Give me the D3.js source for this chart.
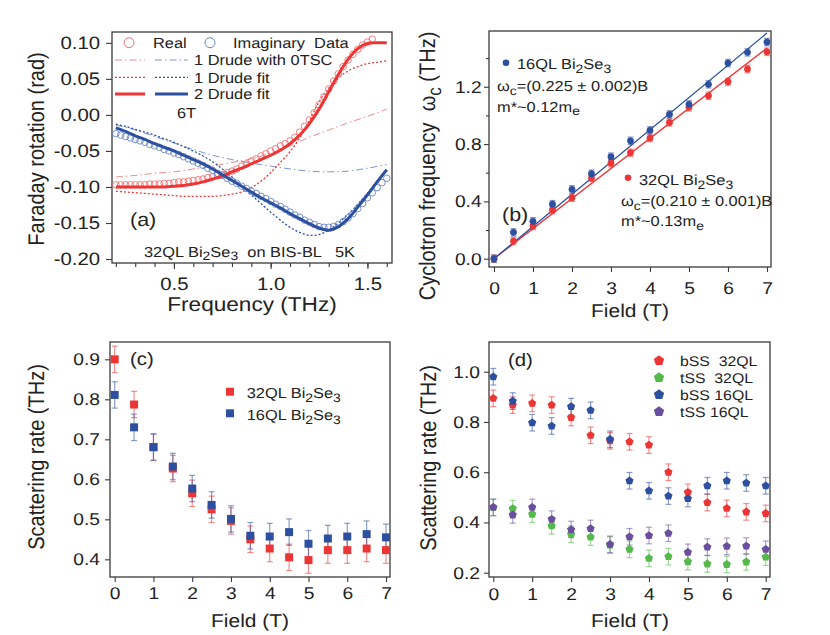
<!DOCTYPE html>
<html>
<head>
<meta charset="utf-8">
<script src="https://d3js.org/d3.v7.min.js"></script>
<style>
body { margin: 0; background: #fff; }
svg text { font-family: "Liberation Sans", Arial, Helvetica, sans-serif; fill: #222; white-space: pre; text-rendering: geometricPrecision; }
</style>
</head>
<body>
<svg id="chart" width="830" height="635"></svg>
<script>
// ---- (a) Faraday rotation at 6T, 32QL Bi2Se3 ----
var freqData = [0.2,0.225,0.25,0.275,0.3,0.325,0.35,0.375,0.4,0.425,0.45,0.475,0.5,0.525,0.55,0.575,0.6,0.625,0.65,0.675,
  0.7,0.725,0.75,0.775,0.8,0.825,0.85,0.875,0.9,0.925,0.95,0.975,1.0,1.025,1.05,1.075,1.1,1.125,1.15,1.175,
  1.2,1.225,1.25,1.275,1.3,1.325,1.35,1.375,1.4,1.425,1.45,1.475,1.5,1.525,1.55,1.575,1.6];
var realData = [-0.097,-0.097,-0.097,-0.097,-0.097,-0.097,-0.097,-0.096,-0.096,-0.096,-0.095,-0.095,-0.094,-0.093,-0.093,-0.092,
  -0.091,-0.090,-0.089,-0.087,-0.086,-0.084,-0.083,-0.080,-0.078,-0.075,-0.071,-0.068,-0.064,-0.061,-0.057,-0.054,
  -0.050,-0.047,-0.043,-0.040,-0.036,-0.031,-0.024,-0.016,-0.007,0.003,0.014,0.025,0.036,0.047,0.057,0.067,
  0.076,0.084,0.091,0.097,0.101,0.105];
var imagData = [-0.026,-0.028,-0.030,-0.032,-0.034,-0.036,-0.038,-0.041,-0.043,-0.045,-0.048,-0.050,-0.053,-0.055,-0.058,-0.061,
  -0.064,-0.067,-0.070,-0.074,-0.077,-0.081,-0.084,-0.088,-0.092,-0.095,-0.099,-0.102,-0.106,-0.109,-0.113,-0.116,
  -0.120,-0.124,-0.127,-0.131,-0.135,-0.139,-0.142,-0.146,-0.149,-0.152,-0.155,-0.156,-0.156,-0.155,-0.152,-0.148,
  -0.143,-0.137,-0.130,-0.123,-0.115,-0.108,-0.101,-0.094,-0.088];

var freqFit = [0.2,0.25,0.3,0.35,0.4,0.45,0.5,0.55,0.6,0.65,0.7,0.75,0.8,0.85,0.9,0.95,1.0,1.05,1.1,1.15,1.2,1.25,1.3,1.35,1.4,1.45,1.5,1.55,1.6];
var real2Drude = [-0.100,-0.100,-0.100,-0.100,-0.100,-0.100,-0.099,-0.098,-0.096,-0.093,-0.089,-0.085,-0.079,-0.074,-0.068,
  -0.062,-0.056,-0.049,-0.040,-0.028,-0.012,0.008,0.032,0.056,0.077,0.092,0.099,0.100,0.100];
var real1Drude = [-0.106,-0.107,-0.108,-0.109,-0.110,-0.111,-0.112,-0.113,-0.113,-0.113,-0.113,-0.112,-0.110,-0.107,-0.101,
  -0.092,-0.080,-0.066,-0.051,-0.032,-0.008,0.018,0.037,0.051,0.061,0.067,0.071,0.073,0.075];
var imag2Drude = [-0.018,-0.023,-0.029,-0.034,-0.040,-0.045,-0.050,-0.056,-0.062,-0.068,-0.075,-0.083,-0.091,-0.099,-0.107,
  -0.115,-0.122,-0.129,-0.137,-0.144,-0.151,-0.157,-0.160,-0.155,-0.144,-0.128,-0.111,-0.093,-0.076];
var imag1Drude = [-0.013,-0.016,-0.020,-0.024,-0.028,-0.033,-0.038,-0.044,-0.050,-0.057,-0.065,-0.075,-0.086,-0.099,-0.111,
  -0.123,-0.135,-0.146,-0.156,-0.163,-0.167,-0.166,-0.160,-0.150,-0.138,-0.124,-0.109,-0.093,-0.078];

var freqTSC = [0.2,0.3,0.4,0.5,0.6,0.7,0.8,0.9,1.0,1.1,1.2,1.3,1.4,1.5,1.6];
var realTSC = [-0.086,-0.084,-0.081,-0.079,-0.075,-0.071,-0.066,-0.061,-0.053,-0.043,-0.031,-0.021,-0.011,-0.002,0.008];
var imagTSC = [-0.014,-0.021,-0.030,-0.039,-0.048,-0.056,-0.062,-0.067,-0.071,-0.075,-0.078,-0.079,-0.078,-0.074,-0.069];

// ---- field dependence, (b) (c) (d) ----
var field = [0,0.5,1,1.5,2,2.5,3,3.5,4,4.5,5,5.5,6,6.5,7];
var wc16 = [0.0,0.184,0.261,0.380,0.484,0.593,0.712,0.823,0.896,1.007,1.077,1.217,1.365,1.440,1.512];
var wc32 = [0.0,0.123,0.228,0.340,0.426,0.563,0.666,0.740,0.842,0.951,1.056,1.137,1.235,1.324,1.444];
var fitField = [0, 7];
var slope16 = 0.225, slope32 = 0.210;

var gamma32 = [0.900,0.787,0.681,0.627,0.565,0.525,0.496,0.450,0.427,0.405,0.398,0.423,0.423,0.427,0.423];
var gamma16 = [0.811,0.730,0.680,0.632,0.577,0.536,0.501,0.459,0.457,0.468,0.439,0.452,0.457,0.463,0.455];

var bss32 = [0.894,0.867,0.874,0.867,0.818,0.747,0.725,0.721,0.708,0.600,0.520,0.479,0.456,0.442,0.436];
var tss32 = [0.460,0.455,0.433,0.387,0.353,0.342,0.310,0.293,0.257,0.264,0.244,0.235,0.233,0.243,0.262];
var bss16 = [0.980,0.883,0.797,0.784,0.861,0.846,0.731,0.566,0.526,0.505,0.495,0.546,0.566,0.557,0.546];
var tss16 = [0.460,0.430,0.460,0.413,0.372,0.376,0.313,0.343,0.348,0.357,0.281,0.302,0.305,0.306,0.293];

var errB = 0.026, errC = 0.033, errD = 0.033;

// tick labels
var aTicksX = [0.5,1.0,1.5], aTicksY = [-0.20,-0.15,-0.10,-0.05,0.00,0.05,0.10];
var fieldTicks = [0,1,2,3,4,5,6,7];
var bTicksY = [0.0,0.4,0.8,1.2], cTicksY = [0.4,0.5,0.6,0.7,0.8,0.9], dTicksY = [0.2,0.4,0.6,0.8,1.0];

var RED = "#ee3535", BLUE = "#2d4f9f", GREEN = "#55b84a", PURPLE = "#6a4f9f";
var SX = 1.13; // the picture is slightly wide

var svg = d3.select("#chart");

function txt(g, x, y, str, size, anchor, rot) {
  var t = g.append("text")
    .attr("transform", "translate(" + x + "," + y + ") scale(" + SX + ",1)" + (rot ? " rotate(-90)" : ""))
    .attr("font-size", size)
    .attr("text-anchor", anchor || "start");
  var parts = str.split(/(_.)/), low = false, sh = size * 0.25;
  parts.forEach(function(p) {
    if (!p) return;
    if (p.charAt(0) === "_") {
      t.append("tspan").attr("dy", low ? 0 : sh).attr("font-size", size * 0.85).text(p.charAt(1));
      low = true;
    } else {
      t.append("tspan").attr("dy", low ? -sh : 0).text(p);
      low = false;
    }
  });
  return t;
}

function makePanel(o) {
  var g = svg.append("g");
  var x = d3.scaleLinear().domain(o.xd).range([o.l, o.r]);
  var y = d3.scaleLinear().domain(o.yd).range([o.b, o.t]);
  function style(ax) {
    ax.select(".domain").remove();
    ax.attr("font-family", null).attr("font-size", null).attr("color", "#3a3a3a");
    ax.selectAll("line").attr("stroke-width", 1.1);
    ax.selectAll("text").attr("font-size", o.fs).attr("transform", "scale(" + SX + ",1)");
  }
  if (o.xm) g.append("g").attr("transform", "translate(0," + o.b + ")")
    .call(d3.axisBottom(x).tickValues(o.xm).tickSize(o.tk - 2).tickFormat(function() { return ""; })).call(style);
  if (o.ym) g.append("g").attr("transform", "translate(" + o.l + ",0)")
    .call(d3.axisLeft(y).tickValues(o.ym).tickSize(o.tk - 2).tickFormat(function() { return ""; })).call(style);
  g.append("g").attr("transform", "translate(0," + o.b + ")")
    .call(d3.axisBottom(x).tickValues(o.xt).tickSize(o.tk).tickPadding(o.xp).tickFormat(o.xf)).call(style);
  g.append("g").attr("transform", "translate(" + o.l + ",0)")
    .call(d3.axisLeft(y).tickValues(o.yt).tickSize(o.tk).tickPadding(o.yp).tickFormat(o.yf)).call(style);
  g.append("rect").attr("x", o.l).attr("y", o.t).attr("width", o.r - o.l).attr("height", o.b - o.t)
    .attr("fill", "none").attr("stroke", "#3a3a3a").attr("stroke-width", 1.3);
  return {g: g, x: x, y: y};
}

function zip(xs, ys) { return ys.map(function(v, i) { return [xs[i], v]; }); }

function errBars(p, ys, err, color) {
  var d = zip(field, ys);
  var g = p.g.append("g").attr("stroke", color).attr("stroke-opacity", 0.55).attr("stroke-width", 1.2);
  g.selectAll("line.v").data(d).join("line").attr("class", "v")
    .attr("x1", function(d) { return p.x(d[0]); }).attr("x2", function(d) { return p.x(d[0]); })
    .attr("y1", function(d) { return p.y(d[1] - err); }).attr("y2", function(d) { return p.y(d[1] + err); });
  [-1, 1].forEach(function(s) {
    g.selectAll("line.c" + (s + 1)).data(d).join("line").attr("class", "c" + (s + 1))
      .attr("x1", function(d) { return p.x(d[0]) - 3; }).attr("x2", function(d) { return p.x(d[0]) + 3; })
      .attr("y1", function(d) { return p.y(d[1] + s * err); }).attr("y2", function(d) { return p.y(d[1] + s * err); });
  });
}

function marks(p, ys, type, size, color) {
  p.g.append("g").selectAll("path").data(zip(field, ys)).join("path")
    .attr("transform", function(d) { return "translate(" + p.x(d[0]) + "," + p.y(d[1]) + ")"; })
    .attr("d", d3.symbol().type(type).size(size))
    .attr("fill", color);
}

var pentagon = {
  draw: function(ctx, size) {
    var r = Math.sqrt(size / 2.378);
    for (var i = 0; i < 5; i++) {
      var a = -Math.PI / 2 + i * 2 * Math.PI / 5;
      if (i === 0) ctx.moveTo(r * Math.cos(a), r * Math.sin(a));
      else ctx.lineTo(r * Math.cos(a), r * Math.sin(a));
    }
    ctx.closePath();
  }
};

var f1 = function(d) { return d.toFixed(1); };
var f2 = function(d) { return d.toFixed(2); };
var f0 = function(d) { return d.toFixed(0); };

// ================= (a) =================
var pa = makePanel({l: 112, r: 392, t: 32, b: 263, xd: [0.18, 1.627], yd: [-0.2055, 0.115],
  xt: aTicksX, yt: aTicksY, xm: d3.range(0.2, 1.65, 0.1), tk: 6, xp: 8, yp: 4.6, fs: 18, xf: f1, yf: f2});

var lineA = d3.line().x(function(d) { return pa.x(d[0]); }).y(function(d) { return pa.y(d[1]); }).curve(d3.curveCatmullRom);
function curveA(xs, ys, color, w, dash) {
  pa.g.append("path").datum(zip(xs, ys)).attr("d", lineA).attr("fill", "none")
    .attr("stroke", color).attr("stroke-width", w).attr("stroke-dasharray", dash);
}
curveA(freqTSC, realTSC, "#f28a8a", 1, "7,3,1.5,3");
curveA(freqTSC, imagTSC, "#7f95d0", 1, "7,3,1.5,3");
curveA(freqFit, real1Drude, RED, 1.3, "2,2");
curveA(freqFit, imag1Drude, BLUE, 1.3, "2,2");
pa.g.append("g").selectAll("circle").data(zip(freqData, realData)).join("circle")
  .attr("cx", function(d) { return pa.x(d[0]); }).attr("cy", function(d) { return pa.y(d[1]); })
  .attr("r", 3.3).attr("fill", "none").attr("stroke", "#f07070").attr("stroke-width", 0.9);
pa.g.append("g").selectAll("circle").data(zip(freqData, imagData)).join("circle")
  .attr("cx", function(d) { return pa.x(d[0]); }).attr("cy", function(d) { return pa.y(d[1]); })
  .attr("r", 3.3).attr("fill", "none").attr("stroke", "#6a86c8").attr("stroke-width", 0.9);
curveA(freqFit, real2Drude, RED, 3, null);
curveA(freqFit, imag2Drude, BLUE, 3, null);

// legend (a)
var lg = pa.g.append("g");
lg.append("circle").attr("cx", 129).attr("cy", 42.7).attr("r", 5).attr("fill", "none").attr("stroke", "#f07070");
lg.append("circle").attr("cx", 210).attr("cy", 42.7).attr("r", 5).attr("fill", "none").attr("stroke", "#6a86c8");
txt(lg, 153, 47.5, "Real", 14.5);
txt(lg, 233, 47.5, "Imaginary  Data", 14.5);
[[60, "#f28a8a", "#7f95d0", 1, "7,3,1.5,3", "1 Drude with 0TSC"],
 [77.3, RED, BLUE, 1.3, "2,2", "1 Drude fit"],
 [94, RED, BLUE, 3, null, "2 Drude fit"]].forEach(function(r) {
  lg.append("line").attr("x1", 115).attr("x2", 145).attr("y1", r[0]).attr("y2", r[0])
    .attr("stroke", r[1]).attr("stroke-width", r[3]).attr("stroke-dasharray", r[4]);
  lg.append("line").attr("x1", 155).attr("x2", 188).attr("y1", r[0]).attr("y2", r[0])
    .attr("stroke", r[2]).attr("stroke-width", r[3]).attr("stroke-dasharray", r[4]);
  txt(lg, 194, r[0] + 5.3, r[5], 14.5);
});
txt(lg, 177, 118.3, "6T", 14.5);
txt(pa.g, 130, 226, "(a)", 19);
txt(pa.g, 144, 256.7, "32QL Bi_2Se_3  on BIS-BL   5K", 14.5);
txt(svg, 252, 311, "Frequency (THz)", 20, "middle");
txt(svg, 44, 149, "Faraday rotation (rad)", 20, "middle", true);

// ================= (b) =================
var pb = makePanel({l: 489, r: 771, t: 31, b: 267, xd: [-0.128, 7.103], yd: [-0.058, 1.589],
  xt: fieldTicks, yt: bTicksY, ym: [0.2, 0.6, 1.0, 1.4], tk: 5, xp: 10, yp: 1.5, fs: 17, xf: f0, yf: f1});
var lineB = d3.line().x(function(d) { return pb.x(d[0]); }).y(function(d) { return pb.y(d[1]); });
pb.g.append("path").datum(fitField.map(function(b) { return [b, slope32 * b]; })).attr("d", lineB)
  .attr("fill", "none").attr("stroke", RED).attr("stroke-width", 1.3);
pb.g.append("path").datum(fitField.map(function(b) { return [b, slope16 * b]; })).attr("d", lineB)
  .attr("fill", "none").attr("stroke", BLUE).attr("stroke-width", 1.3);
errBars(pb, wc32, errB, RED);
errBars(pb, wc16, errB, BLUE);
marks(pb, wc32, d3.symbolCircle, 36, RED);
marks(pb, wc16, d3.symbolCircle, 36, BLUE);
pb.g.append("circle").attr("cx", 506).attr("cy", 62.7).attr("r", 3.3).attr("fill", BLUE);
txt(pb.g, 517, 69, "16QL Bi_2Se_3", 14.5);
txt(pb.g, 497, 91, "ω_c=(0.225 ± 0.002)B", 14.5);
txt(pb.g, 497, 111.5, "m*~0.12m_e", 14.5);
pb.g.append("circle").attr("cx", 628).attr("cy", 177.7).attr("r", 3.3).attr("fill", RED);
txt(pb.g, 639, 185, "32QL Bi_2Se_3", 14.5);
txt(pb.g, 621, 206, "ω_c=(0.210 ± 0.001)B", 14.5);
txt(pb.g, 621, 226, "m*~0.13m_e", 14.5);
txt(pb.g, 502, 221, "(b)", 19);
txt(svg, 630, 317, "Field (T)", 18.5, "middle");
txt(svg, 435, 166, "Cyclotron frequency  ω_c (THz)", 20, "middle", true);

// ================= (c) =================
var pc = makePanel({l: 110, r: 390, t: 342, b: 577, xd: [-0.121, 7.103], yd: [0.3558, 0.9433],
  xt: fieldTicks, yt: cTicksY, tk: 5, xp: 5, yp: 3.8, fs: 17, xf: f0, yf: f1});
errBars(pc, gamma32, errC, RED);
errBars(pc, gamma16, errC, BLUE);
marks(pc, gamma32, d3.symbolSquare, 64, RED);
marks(pc, gamma16, d3.symbolSquare, 64, BLUE);
pc.g.append("rect").attr("x", 226).attr("y", 387.7).attr("width", 8).attr("height", 8).attr("fill", RED);
pc.g.append("rect").attr("x", 226).attr("y", 409.3).attr("width", 8).attr("height", 8).attr("fill", BLUE);
txt(pc.g, 246.7, 398, "32QL Bi_2Se_3", 14.5);
txt(pc.g, 246.7, 420, "16QL Bi_2Se_3", 14.5);
txt(pc.g, 130, 365, "(c)", 18);
txt(svg, 250, 627, "Field (T)", 18.5, "middle");
txt(svg, 44, 457, "Scattering rate (THz)", 20, "middle", true);

// ================= (d) =================
var pd = makePanel({l: 489, r: 770, t: 342, b: 577, xd: [-0.11, 7.11], yd: [0.1829, 1.1182],
  xt: fieldTicks, yt: dTicksY, tk: 5, xp: 6, yp: 3, fs: 17, xf: f0, yf: f1});
var seriesD = [[bss32, RED, "bSS  32QL"], [tss32, GREEN, "tSS  32QL"], [bss16, BLUE, "bSS 16QL"], [tss16, PURPLE, "tSS 16QL"]];
seriesD.forEach(function(s) { errBars(pd, s[0], errD, s[1]); });
seriesD.forEach(function(s) { marks(pd, s[0], pentagon, 44, s[1]); });
seriesD.forEach(function(s, i) {
  var yy = 360.7 + i * 17;
  pd.g.append("path").attr("transform", "translate(659," + yy + ")")
    .attr("d", d3.symbol().type(pentagon).size(70)).attr("fill", s[1]);
  txt(pd.g, 680, yy + 5.3, s[2], 14);
});
txt(pd.g, 508, 366, "(d)", 18);
txt(svg, 630, 627, "Field (T)", 18.5, "middle");
txt(svg, 436, 458, "Scattering rate (THz)", 20, "middle", true);
</script>
</body>
</html>
